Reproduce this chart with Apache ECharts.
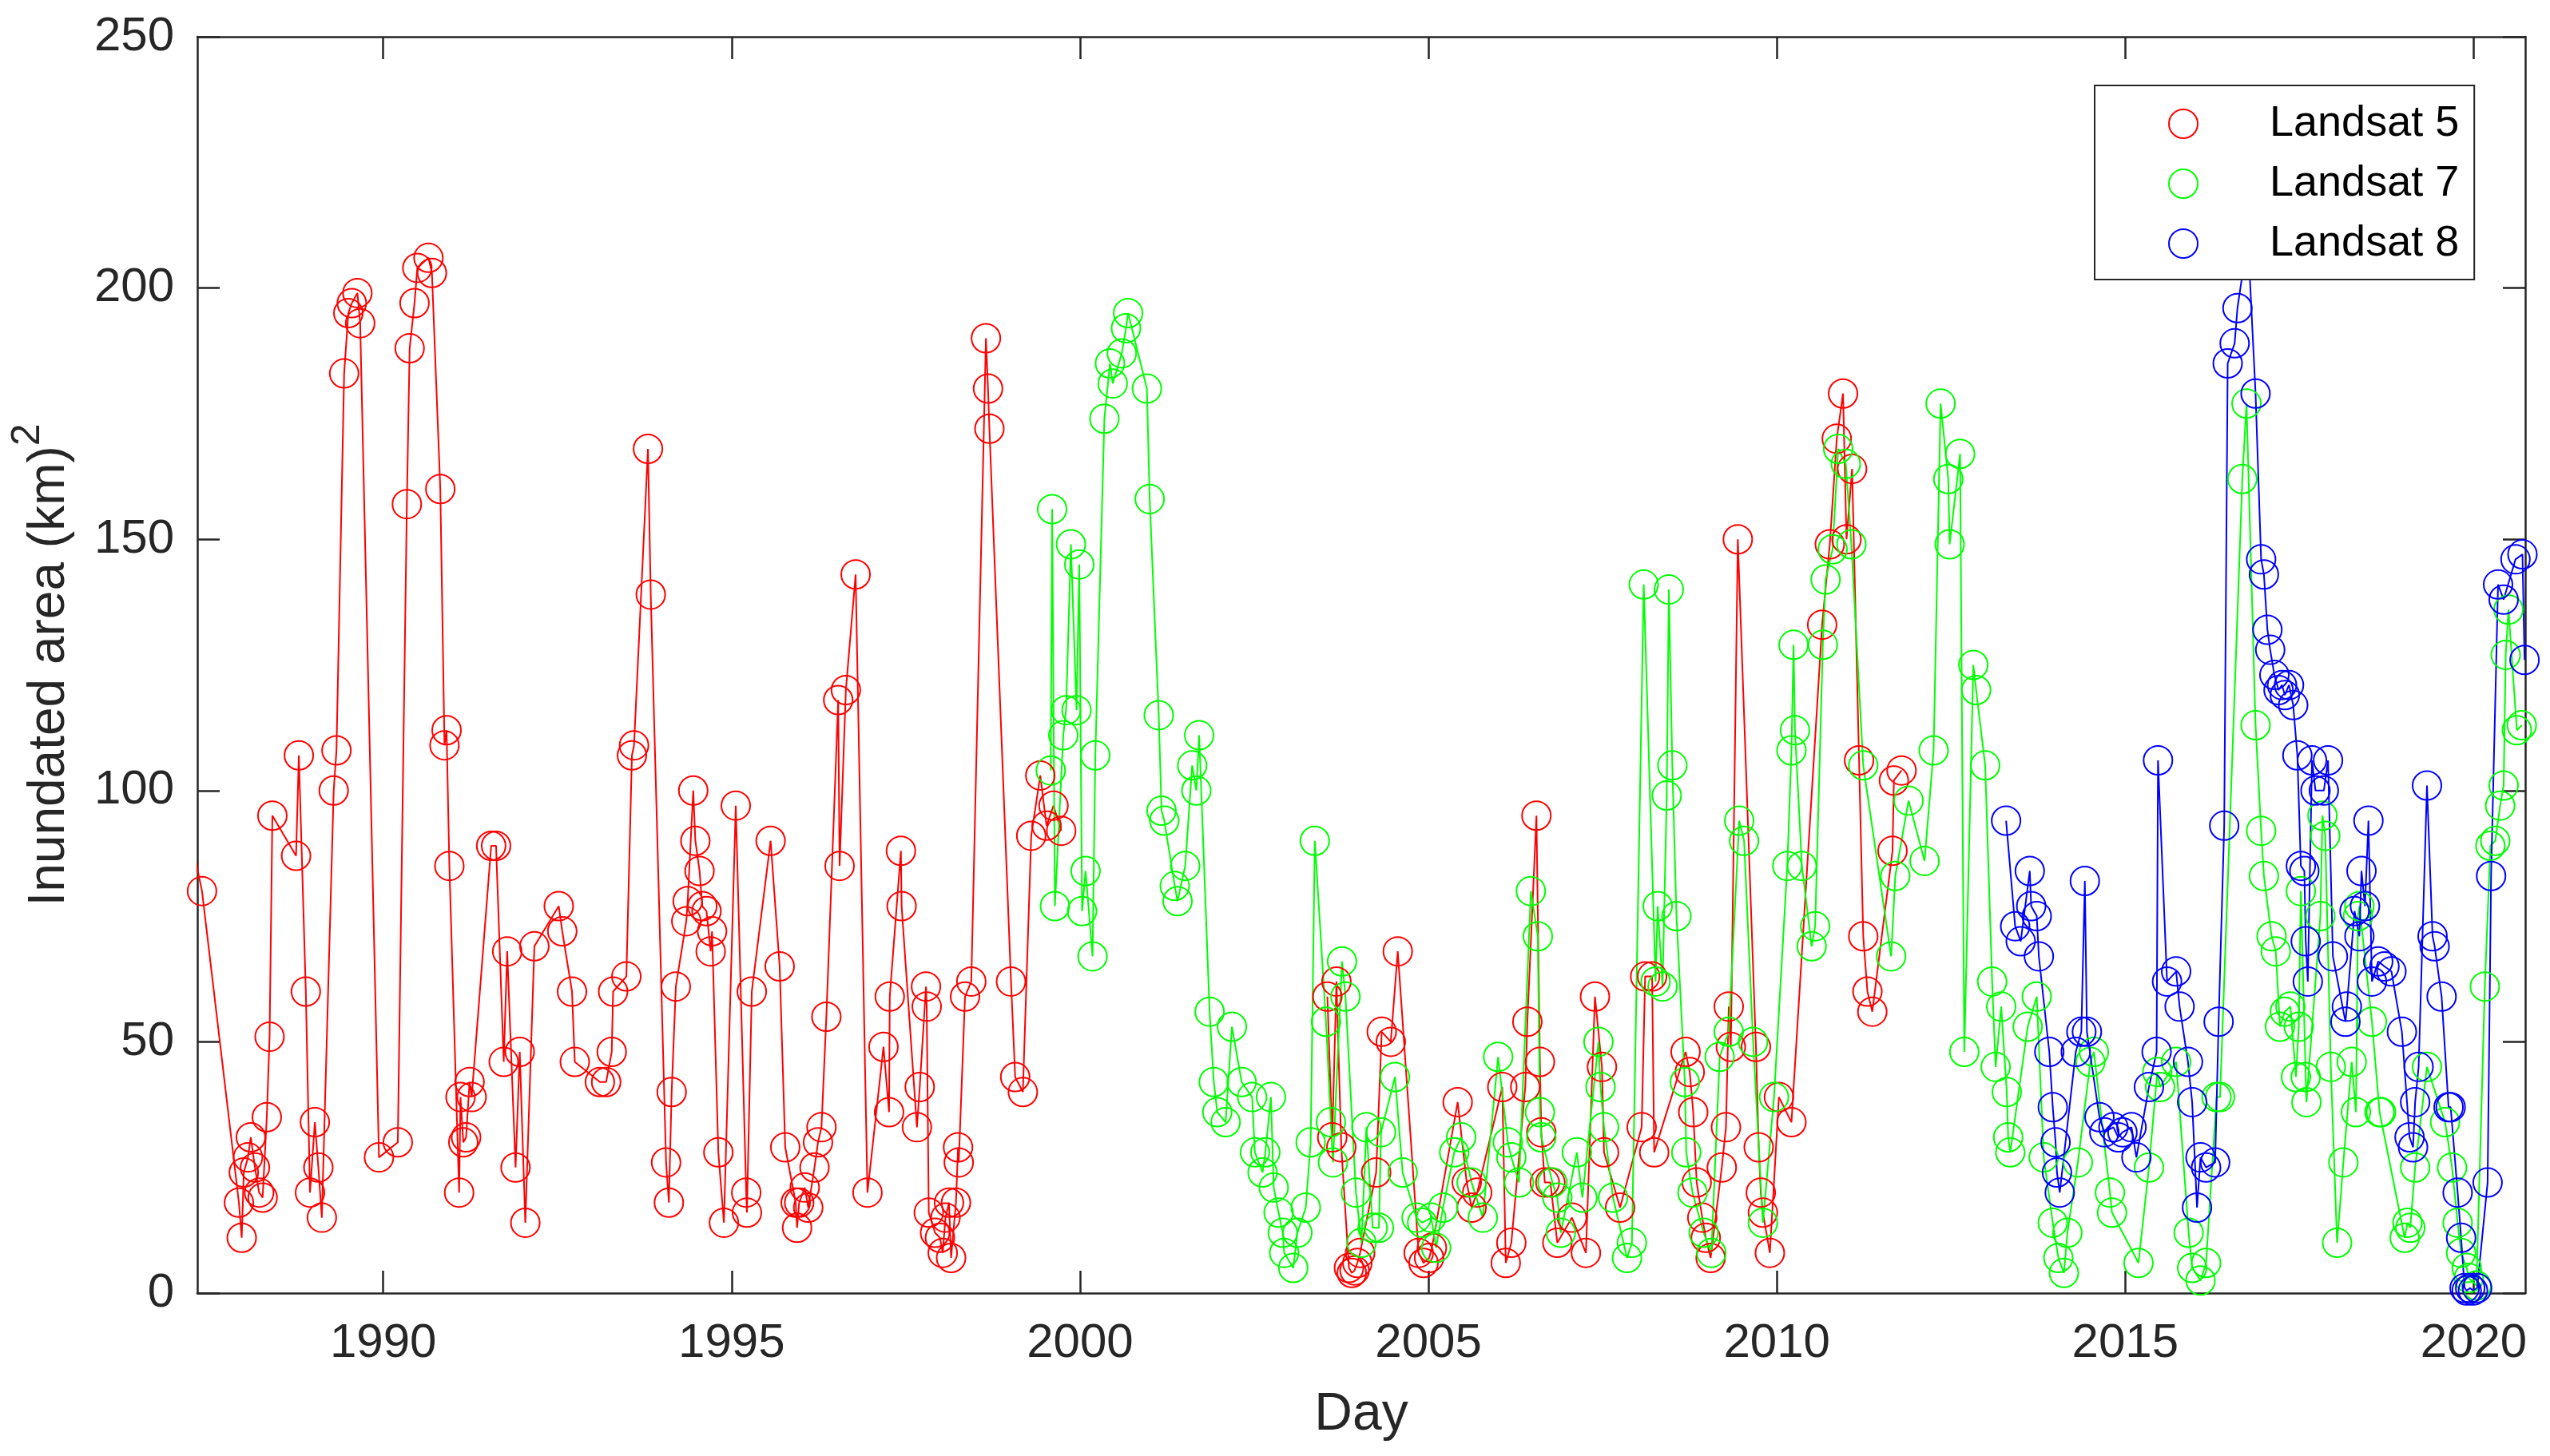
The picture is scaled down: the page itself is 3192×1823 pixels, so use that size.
<!DOCTYPE html>
<html>
<head>
<meta charset="utf-8">
<script src="https://cdn.jsdelivr.net/npm/echarts@6/dist/echarts.min.js"></script>
<style>html,body{margin:0;padding:0;background:#fff;}#c{width:3192px;height:1823px;}</style>
</head>
<body>
<div id="c"></div>
<script>
// ---- Data (decimal year, inundated area km^2) ----
const yearTicks = [1990, 1995, 2000, 2005, 2010, 2015, 2020];
const seriesNames = ['Landsat 5', 'Landsat 7', 'Landsat 8'];

const l5Year = [1987.25,1987.40,1987.93,1987.97,1988.00,1988.06,1988.10,1988.16,1988.22,1988.27,1988.33,1988.37,1988.41,1988.75,1988.79,1988.89,1988.95,1989.02,1989.07,1989.12,1989.29,1989.33,1989.44,1989.50,1989.55,1989.63,1989.67,1989.94,1990.21,1990.34,1990.38,1990.45,1990.49,1990.65,1990.70,1990.82,1990.88,1990.91,1990.95,1991.09,1991.11,1991.15,1991.19,1991.24,1991.27,1991.55,1991.62,1991.73,1991.78,1991.90,1991.96,1992.04,1992.17,1992.52,1992.57,1992.71,1992.75,1993.11,1993.20,1993.28,1993.30,1993.49,1993.57,1993.60,1993.80,1993.84,1994.06,1994.10,1994.14,1994.20,1994.35,1994.37,1994.45,1994.48,1994.54,1994.58,1994.64,1994.70,1994.72,1994.81,1994.89,1995.06,1995.21,1995.22,1995.29,1995.56,1995.69,1995.77,1995.92,1995.94,1995.97,1996.05,1996.10,1996.19,1996.24,1996.29,1996.36,1996.53,1996.55,1996.64,1996.78,1996.95,1997.18,1997.26,1997.27,1997.43,1997.44,1997.66,1997.70,1997.79,1997.80,1997.83,1997.92,1997.99,1998.03,1998.07,1998.12,1998.15,1998.22,1998.25,1998.26,1998.35,1998.44,1998.65,1998.68,1998.70,1999.01,1999.07,1999.18,1999.30,1999.43,1999.52,1999.62,1999.73,2001.50,2003.55,2003.62,2003.68,2003.75,2003.86,2003.90,2003.94,2003.98,2004.02,2004.25,2004.33,2004.46,2004.56,2004.86,2004.93,2005.01,2005.05,2005.42,2005.55,2005.62,2005.70,2006.06,2006.11,2006.19,2006.39,2006.42,2006.55,2006.60,2006.62,2006.67,2006.75,2006.85,2007.06,2007.26,2007.39,2007.49,2007.52,2007.75,2008.06,2008.11,2008.21,2008.24,2008.69,2008.75,2008.80,2008.85,2008.93,2008.98,2009.05,2009.21,2009.27,2009.31,2009.34,2009.44,2009.70,2009.74,2009.77,2009.80,2009.90,2010.03,2010.21,2010.65,2010.76,2010.86,2010.95,2011.00,2011.08,2011.18,2011.24,2011.30,2011.37,2011.66,2011.68,2011.79];
const l5Area = [90,80,18,11,24,27,31,25,20,19,35,51,95,87,107,60,20,34,25,15,100,108,183,195,197,199,193,27,30,157,188,197,204,206,203,160,109,112,85,20,39,30,31,42,39,89,89,46,68,25,48,14,69,77,72,60,46,42,42,48,60,63,107,109,168,139,26,18,40,61,74,78,100,90,84,77,76,68,72,28,14,97,20,16,60,90,65,29,18,13,18,21,17,25,30,33,55,118,85,120,143,20,49,36,59,88,77,33,41,61,57,16,12,11,8,15,18,7,18,29,26,59,62,190,180,172,62,43,40,91,103,93,97,92,null,59,31,62,29,5,4,4.5,6,8,24,52,50,68,8,6,7,9,38,22,17,20,41,6,10,41,54,95,46,32,22,22,10,15,8,59,45,28,17,33,63,63,28,48,44,36,22,15,11,7,25,33,57,49,150,49,29,20,16,8,39,34,133,149,170,179,150,164,106,71,60,56,88,102,104];

const l7Year = [1999.58,1999.60,1999.64,1999.76,1999.80,1999.87,1999.95,1999.99,2000.03,2000.08,2000.18,2000.22,2000.35,2000.43,2000.47,2000.60,2000.66,2000.69,2000.96,2001.00,2001.13,2001.17,2001.21,2001.36,2001.40,2001.51,2001.61,2001.67,2001.71,2001.86,2001.92,2001.97,2002.09,2002.18,2002.32,2002.47,2002.51,2002.62,2002.66,2002.74,2002.78,2002.85,2002.91,2002.93,2003.06,2003.12,2003.24,2003.31,2003.37,2003.53,2003.60,2003.63,2003.76,2003.81,2003.96,2004.04,2004.11,2004.20,2004.29,2004.32,2004.52,2004.63,2004.83,2004.91,2005.04,2005.11,2005.21,2005.37,2005.47,2005.62,2005.78,2006.00,2006.14,2006.19,2006.30,2006.47,2006.57,2006.60,2006.62,2006.78,2006.85,2006.90,2007.13,2007.21,2007.44,2007.47,2007.52,2007.65,2007.85,2007.92,2008.09,2008.26,2008.29,2008.36,2008.42,2008.45,2008.50,2008.56,2008.68,2008.70,2008.79,2008.95,2009.06,2009.18,2009.31,2009.46,2009.53,2009.66,2009.80,2009.96,2010.15,2010.21,2010.24,2010.26,2010.36,2010.50,2010.55,2010.66,2010.70,2010.80,2010.88,2010.99,2011.07,2011.24,2011.64,2011.70,2011.89,2012.12,2012.25,2012.35,2012.46,2012.48,2012.63,2012.69,2012.82,2012.86,2012.99,2013.09,2013.14,2013.22,2013.30,2013.32,2013.35,2013.60,2013.73,2013.83,2013.96,2014.04,2014.12,2014.17,2014.32,2014.50,2014.55,2014.78,2014.81,2015.19,2015.34,2015.46,2015.50,2015.73,2015.91,2015.96,2016.08,2016.16,2016.31,2016.36,2016.68,2016.74,2016.87,2016.95,2016.99,2017.10,2017.16,2017.22,2017.29,2017.37,2017.45,2017.49,2017.52,2017.59,2017.60,2017.80,2017.83,2017.87,2017.95,2018.04,2018.13,2018.25,2018.31,2018.34,2018.36,2018.54,2018.65,2018.67,2019.01,2019.05,2019.09,2019.16,2019.33,2019.59,2019.69,2019.77,2019.82,2019.90,2019.93,2020.04,2020.16,2020.24,2020.31,2020.38,2020.43,2020.46,2020.50,2020.62,2020.69];
const l7Area = [104,156,77,111,116,149,116,145,76,84,67,107,174,185,181,187,192,195,180,158,115,96,94,81,78,85,105,100,111,56,42,36,34,53,42,39,28,24,28,39,21,16,12,8,5,12,17,30,90,54,34,26,66,59,20,10,33,13,13,32,43,24,15,14,15,9,17,28,31,22,15,47,30,27,22,80,71,36,31,22,19,12,28,19,50,41,33,19,7,10,141,62,77,61,99,140,105,75,42,28,20,12,8,47,52,94,90,50,14,39,85,108,129,112,85,69,73,129,142,148,168,165,149,105,67,83,98,86,108,177,162,149,167,48,125,120,105,62,45,57,40,31,28,53,59,27,14,7,4,12,26,46,48,20,16,6,25,44,41,46,12,5,2.5,6,39,39,162,177,113,92,83,71,68,53,56,57,43,53,80,43,38,75,95,91,45,10,26,46,36,75,77,54,36,36,11,14,13,25,45,34,25,14,8,5,3,1.5,61,89,90,97,101,127,136,112,113];

const l8Year = [2013.29,2013.42,2013.50,2013.63,2013.65,2013.73,2013.76,2013.91,2013.96,2014.00,2014.02,2014.06,2014.29,2014.37,2014.42,2014.45,2014.63,2014.70,2014.83,2014.90,2014.96,2015.09,2015.16,2015.34,2015.45,2015.47,2015.60,2015.73,2015.78,2015.90,2015.96,2016.03,2016.08,2016.16,2016.29,2016.34,2016.42,2016.47,2016.57,2016.61,2016.76,2016.87,2016.95,2016.99,2017.04,2017.08,2017.14,2017.20,2017.25,2017.29,2017.35,2017.41,2017.47,2017.52,2017.57,2017.59,2017.62,2017.68,2017.73,2017.85,2017.91,2017.98,2018.16,2018.18,2018.29,2018.36,2018.39,2018.44,2018.49,2018.54,2018.63,2018.72,2018.82,2018.97,2019.08,2019.13,2019.16,2019.21,2019.33,2019.41,2019.44,2019.54,2019.64,2019.67,2019.77,2019.82,2019.87,2019.90,2019.95,2019.99,2020.05,2020.20,2020.25,2020.35,2020.43,2020.60,2020.70,2020.73];
const l8Area = [94,73,70,84,77,75,67,48,37,30,24,20,48,52,82,52,35,32,33,31,32,33,27,41,48,106,62,64,57,46,38,17,27,25,26,54,93,185,189,196,210,179,146,143,132,128,123,120,121,119,121,117,107,85,84,70,62,106,100,100,106,67,54,57,76,71,84,77,94,62,66,65,64,52,31,29,38,45,101,71,69,59,37,37,20,11,1,0.5,1,0.5,1,22,83,141,138,146,147,126];

const colors = ['#ff0000', '#00ff00', '#0000ff'];
const years = [l5Year, l7Year, l8Year];
const areas = [l5Area, l7Area, l8Area];

const axisColor = '#262626';
const font = 'Liberation Sans, Arial, Helvetica, sans-serif';
const xMin = 1987.333, xMax = 2020.74;

const chart = echarts.init(document.getElementById('c'), null, {renderer: 'canvas'});

const series = seriesNames.map((name, k) => ({
  name: name,
  type: 'line',
  xAxisIndex: 0,
  yAxisIndex: 0,
  data: years[k].map((x, i) => [x, areas[k][i] === null ? '-' : areas[k][i]]),
  symbol: 'circle',
  symbolSize: 36,
  showAllSymbol: true,
  connectNulls: false,
  clip: true,
  lineStyle: {color: colors[k], width: 2},
  itemStyle: {color: 'transparent', borderColor: colors[k], borderWidth: 2},
  emphasis: {disabled: true},
  animation: false
}));

chart.setOption({
  animation: false,
  backgroundColor: '#ffffff',
  textStyle: {fontFamily: font},
  grid: {left: 247, right: 31, top: 46, bottom: 204, containLabel: false},
  legend: {
    orient: 'vertical',
    left: 2622,
    top: 107,
    backgroundColor: '#ffffff',
    borderColor: axisColor,
    borderWidth: 2,
    borderRadius: 0,
    padding: [21, 19, 18, 92],
    itemGap: 21,
    itemWidth: 36,
    itemHeight: 36,
    icon: 'circle',
    z: 10,
    selectedMode: false,
    textStyle: {fontSize: 54, color: '#000000', fontFamily: font, lineHeight: 36, padding: [0, 0, 0, 85]},
    data: seriesNames.map((n, k) => ({
      name: n,
      icon: 'circle',
      itemStyle: {color: 'transparent', borderColor: colors[k], borderWidth: 2}
    }))
  },
  xAxis: [{
    type: 'value',
    position: 'bottom',
    min: xMin,
    max: xMax,
    name: 'Day',
    nameLocation: 'middle',
    nameGap: 120,
    nameTextStyle: {fontSize: 66, color: axisColor, fontFamily: font},
    axisLine: {show: true, onZero: false, lineStyle: {color: axisColor, width: 2.5}},
    axisTick: {show: true, inside: true, length: 28, customValues: yearTicks, lineStyle: {color: axisColor, width: 2.5}},
    axisLabel: {show: true, customValues: yearTicks, fontSize: 60, color: axisColor, margin: 33, fontFamily: font,
      formatter: v => String(Math.round(v))},
    splitLine: {show: false}
  }, {
    type: 'value',
    position: 'top',
    min: xMin,
    max: xMax,
    axisLine: {show: true, onZero: false, lineStyle: {color: axisColor, width: 2.5}},
    axisTick: {show: true, inside: true, length: 28, customValues: yearTicks, lineStyle: {color: axisColor, width: 2.5}},
    axisLabel: {show: false},
    splitLine: {show: false}
  }],
  yAxis: [{
    type: 'value',
    position: 'left',
    min: 0,
    max: 250,
    interval: 50,
    name: '{t|Inundated area (km)}{s|2}',
    nameLocation: 'middle',
    nameGap: 153,
    nameTextStyle: {
      color: axisColor,
      fontFamily: font,
      rich: {
        t: {fontSize: 64, lineHeight: 64, color: axisColor, fontFamily: font, verticalAlign: 'bottom'},
        s: {fontSize: 50, lineHeight: 50, color: axisColor, fontFamily: font, verticalAlign: 'bottom', padding: [0, 0, 34, 0]}
      }
    },
    axisLine: {show: true, onZero: false, lineStyle: {color: axisColor, width: 2.5}},
    axisTick: {show: true, inside: true, length: 28, lineStyle: {color: axisColor, width: 2.5}},
    axisLabel: {show: true, fontSize: 60, color: axisColor, margin: 29, fontFamily: font},
    splitLine: {show: false}
  }, {
    type: 'value',
    position: 'right',
    min: 0,
    max: 250,
    interval: 50,
    axisLine: {show: true, onZero: false, lineStyle: {color: axisColor, width: 2.5}},
    axisTick: {show: true, inside: true, length: 28, lineStyle: {color: axisColor, width: 2.5}},
    axisLabel: {show: false},
    splitLine: {show: false}
  }],
  series: series
});
</script>
</body>
</html>
